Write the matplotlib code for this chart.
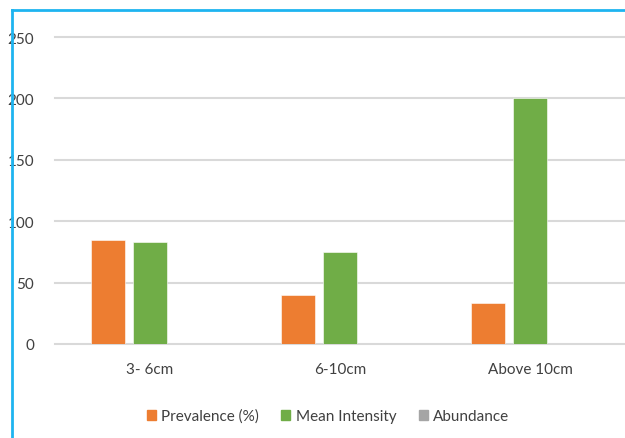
import numpy as np
import matplotlib.pyplot as plt
from matplotlib.lines import Line2D
from matplotlib.patches import Patch

plt.rcParams['font.family'] = ['Lato', 'DejaVu Sans']

sizes = ['3- 6cm', '6-10cm', 'Above 10cm']
prevalence = [85, 40, 33]
mean_intensity = [83, 75, 200]
abundance = [0, 0, 0]

series = [('Prevalence (%)', prevalence, '#ED7D31'),
          ('Mean Intensity', mean_intensity, '#70AD47'),
          ('Abundance', abundance, '#A5A5A5')]

fig = plt.figure(figsize=(6.25, 4.39), dpi=100)
ax = fig.add_axes([55 / 625, 94 / 439, 570 / 625, 307 / 439])

x = np.arange(len(sizes))
w = 0.174
offs = [-0.221, 0, 0.221]
for (name, vals, col), o in zip(series, offs):
    ax.bar(x + o, vals, w, color=col, edgecolor='white', linewidth=0.4, zorder=2)

ax.set_xlim(-0.5, 2.5)
ax.set_ylim(0, 250)
ax.set_yticks(range(0, 251, 50))
ax.set_xticks(x)
ax.set_xticklabels(sizes)
ax.grid(axis='y', color='#D9D9D9', linewidth=1.5, zorder=0)
for gl in ax.get_ygridlines():
    gl.set_clip_on(False)
ax.set_axisbelow(True)
for s in ax.spines.values():
    s.set_visible(False)
ax.tick_params(length=0, labelsize=11, labelcolor='#404040')
ax.tick_params(axis='y', pad=15)
ax.tick_params(axis='x', pad=13)

handles = [Patch(color=c, label=n) for n, v, c in series]
fig.legend(handles=handles, loc='center', bbox_to_anchor=(328 / 625, 1 - 417 / 439),
           ncol=3, frameon=False, fontsize=11, handlelength=0.6, handleheight=0.6,
           handletextpad=0.35, columnspacing=1.45, labelcolor='#404040')

# blue frame on the left and top edges
fig.add_artist(Line2D([12 / 625, 12 / 625], [0, 1 - 11 / 439], color='#1EB4F0', linewidth=2,
                      transform=fig.transFigure))
fig.add_artist(Line2D([12 / 625, 1], [1 - 11 / 439, 1 - 11 / 439], color='#1EB4F0', linewidth=2,
                      transform=fig.transFigure))

fig.savefig('out.png', dpi=100)
